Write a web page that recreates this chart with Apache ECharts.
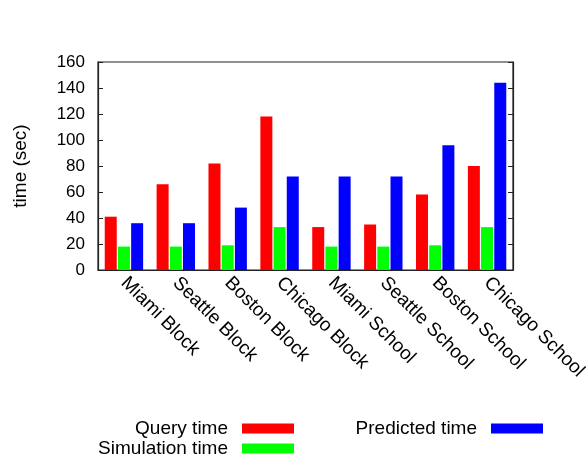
<!DOCTYPE html>
<html><head><meta charset="utf-8">
<script src="https://cdn.jsdelivr.net/npm/echarts@6/dist/echarts.min.js"></script>
<style>html,body{margin:0;padding:0;background:#fff}#c{width:586px;height:460px}</style>
</head><body><div id="c"></div>
<script>
const categories = ['Miami Block','Seattle Block','Boston Block','Chicago Block','Miami School','Seattle School','Boston School','Chicago School'];
const queryTime = [41, 66, 82, 118, 33, 35, 58, 80];
const simulationTime = [18, 18, 19, 33, 18, 18, 19, 33];
const predictedTime = [36, 36, 48, 72, 72, 72, 96, 144];
const yTicks = [0, 20, 40, 60, 80, 100, 120, 140, 160];

const font = 'Liberation Sans, Arial, sans-serif';
const fs = 19;
const chart = echarts.init(document.getElementById('c'), null, {renderer: 'canvas'});
const legendBase = {
  itemWidth: 52, itemHeight: 10, align: 'right', itemGap: 0, padding: 0,
  textStyle: {fontFamily: font, fontSize: fs, color: '#000', padding: [0, 9, 0, 0]},
  icon: 'rect', selectedMode: false
};
chart.setOption({
  animation: false,
  grid: {left: 98, right: 73, top: 62, bottom: 190, show: true, borderColor: '#222', borderWidth: 1.2,
    containLabel: false, outerBoundsMode: 'none'},
  legend: [
    Object.assign({}, legendBase, {data: ['Query time'], right: 292, top: 419}),
    Object.assign({}, legendBase, {data: ['Simulation time'], right: 292, top: 439}),
    Object.assign({}, legendBase, {data: ['Predicted time'], right: 43, top: 419})
  ],
  xAxis: {
    type: 'category', data: categories,
    axisLine: {lineStyle: {color: '#222', width: 1.2}},
    axisTick: {show: false},
    axisLabel: {rotate: -45, fontFamily: font, fontSize: fs, color: '#000', margin: 10, interval: 0}
  },
  yAxis: [{
    type: 'value', min: 0, max: 160, interval: 20,
    name: 'time (sec)', nameLocation: 'middle', nameGap: 68,
    nameTextStyle: {fontFamily: font, fontSize: fs, color: '#000'},
    axisLine: {show: true, lineStyle: {color: '#222', width: 1.2}},
    axisTick: {show: true, inside: true, length: 5, lineStyle: {color: '#222'}},
    axisLabel: {fontFamily: font, fontSize: 17, color: '#000', margin: 13,
      formatter: v => yTicks.includes(v) ? String(v) : ''},
    splitLine: {show: false}
  }, {
    type: 'value', min: 0, max: 160, interval: 20, position: 'right',
    axisLine: {show: true, lineStyle: {color: '#222', width: 1.2}},
    axisTick: {show: true, inside: true, length: 5, lineStyle: {color: '#222'}},
    axisLabel: {show: false}, splitLine: {show: false}
  }],
  series: [
    {name: 'Query time', type: 'bar', data: queryTime, barWidth: 12, barGap: '10%', itemStyle: {color: '#ff0000'}},
    {name: 'Simulation time', type: 'bar', data: simulationTime, barWidth: 12, barGap: '10%', itemStyle: {color: '#00ff00'}},
    {name: 'Predicted time', type: 'bar', data: predictedTime, barWidth: 12, barGap: '10%', itemStyle: {color: '#0000ff'}}
  ]
});
</script></body></html>
